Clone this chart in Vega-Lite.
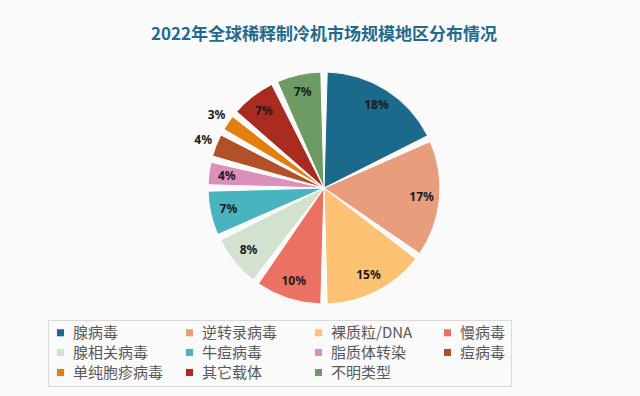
{
  "$schema": "https://vega.github.io/schema/vega-lite/v6.json",
  "width": 632,
  "height": 240,
  "autosize": {"type": "none"},
  "padding": {"left": 8, "top": 68, "right": 0, "bottom": 88},
  "background": "#fafafa",
  "title": {
    "text": "2022年全球稀释制冷机市场规模地区分布情况",
    "fontSize": 17,
    "font": "Noto Sans CJK SC",
    "fontWeight": "bold",
    "color": "#236b8e",
    "anchor": "middle",
    "offset": 24
  },
  "config": {"view": {"stroke": null}},
  "data": {
    "values": [
      {"rank": 1, "type": "腺病毒", "share": 0.18},
      {"rank": 2, "type": "逆转录病毒", "share": 0.17},
      {"rank": 3, "type": "裸质粒/DNA", "share": 0.15},
      {"rank": 4, "type": "慢病毒", "share": 0.10},
      {"rank": 5, "type": "腺相关病毒", "share": 0.08},
      {"rank": 6, "type": "牛痘病毒", "share": 0.07},
      {"rank": 7, "type": "脂质体转染", "share": 0.04},
      {"rank": 8, "type": "痘病毒", "share": 0.04},
      {"rank": 9, "type": "单纯胞疹病毒", "share": 0.03},
      {"rank": 10, "type": "其它载体", "share": 0.07},
      {"rank": 11, "type": "不明类型", "share": 0.07}
    ]
  },
  "encoding": {
    "theta": {"field": "share", "type": "quantitative", "stack": true},
    "order": {"field": "rank", "type": "quantitative", "sort": "ascending"},
    "color": {
      "field": "type",
      "type": "nominal",
      "scale": {
        "domain": ["腺病毒", "逆转录病毒", "裸质粒/DNA", "慢病毒", "腺相关病毒", "牛痘病毒", "脂质体转染", "痘病毒", "单纯胞疹病毒", "其它载体", "不明类型"],
        "range": ["#1b6a8c", "#e89e7d", "#fdc273", "#eb7262", "#d3e2cf", "#4ab3c0", "#dc8fb8", "#b0512a", "#e27f0e", "#aa2b20", "#6e9b63"]
      },
      "legend": {
        "orient": "none",
        "legendX": 40,
        "legendY": 252,
        "columns": 4,
        "direction": "horizontal",
        "gridAlign": "all",
        "columnPadding": 18,
        "rowPadding": 4,
        "labelFontSize": 15,
        "labelFont": "Noto Sans CJK SC",
        "labelColor": "#595959",
        "symbolType": "square",
        "symbolSize": 50,
        "symbolStrokeWidth": 0,
        "labelOffset": 5,
        "padding": 5,
        "strokeColor": "#d9d9d9",
        "title": null,
        "labelLimit": 200
      }
    }
  },
  "layer": [
    {
      "mark": {"type": "arc", "outerRadius": 116, "innerRadius": 0, "padAngle": 0.055, "stroke": "white", "strokeWidth": 1}
    },
    {
      "mark": {
        "type": "text",
        "radius": {"expr": "datum.type == '痘病毒' || datum.type == '单纯胞疹病毒' ? 130 : 98"},
        "font": "Noto Sans",
        "fontSize": 12,
        "fontWeight": "bold",
        "color": "#1a1a1a"
      },
      "encoding": {
        "text": {"field": "share", "type": "quantitative", "format": ".0%"},
        "color": {"value": "#1a1a1a"}
      }
    }
  ]
}
